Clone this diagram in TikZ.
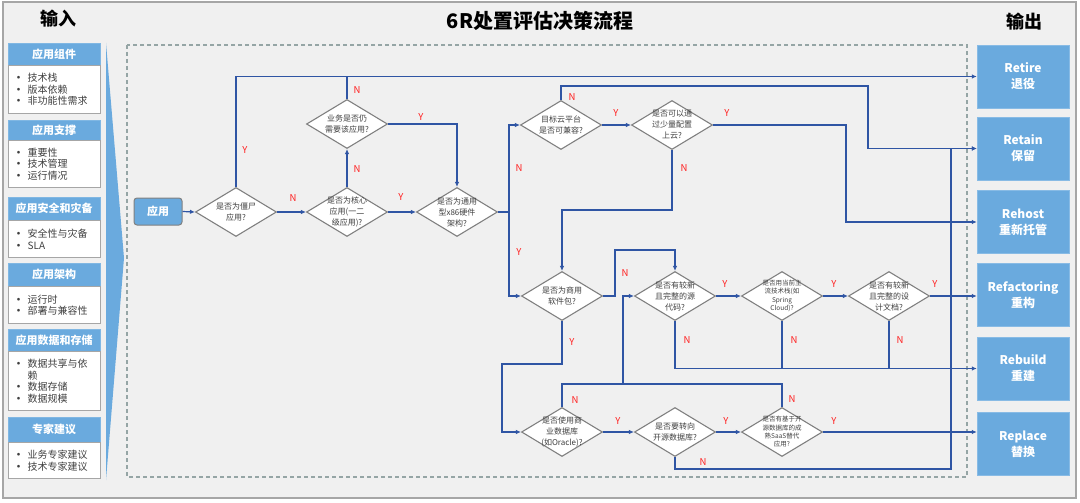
\documentclass[tikz,border=0pt]{standalone}
\usepackage{fontspec}
\setmainfont{Noto Sans CJK SC}
\usetikzlibrary{shapes.geometric,arrows.meta,calc}
\definecolor{bluebox}{HTML}{6AAADE}
\definecolor{lineblue}{HTML}{2F55A4}
\definecolor{bgc}{HTML}{F0F0F0}
\definecolor{framec}{HTML}{A6A6A6}
\definecolor{txt}{HTML}{404040}
\definecolor{dashc}{HTML}{95A5A5}
\definecolor{labred}{HTML}{FF2020}
\definecolor{decb}{HTML}{808080}
\begin{document}
\begin{tikzpicture}[x=1pt,y=-1pt,
  arr/.style={draw=lineblue, line width=1.2pt, -{Latex[length=5pt,width=4.5pt]}},
  ln/.style={draw=lineblue, line width=1.2pt},
  dec/.style={diamond, draw=decb, fill=white, line width=1.1pt, minimum width=81pt, minimum height=49pt, inner sep=0pt},
  dtext/.style={text=txt, font=\fontsize{8}{11}\selectfont, align=center, inner sep=0pt},
  dsmall/.style={text=txt, font=\fontsize{6.5}{8.3}\selectfont, align=center, inner sep=0pt},
  lbl/.style={text=labred, font=\fontsize{9.5}{10}\selectfont, inner sep=0pt},
  outbox/.style={fill=bluebox, draw=bluebox!80!white, minimum width=92pt, minimum height=63pt, text=white, font=\fontsize{12}{16}\selectfont\bfseries, align=center, inner sep=0pt},
  hdr/.style={fill=bluebox, draw=bluebox!85!white, minimum width=92pt, text=white, font=\fontsize{11}{13}\selectfont\bfseries, inner sep=0pt, anchor=north west},
  cardbody/.style={fill=white, draw=framec, line width=1.2pt, text width=82pt, inner xsep=5pt, inner ysep=0pt, align=left, text=txt, font=\fontsize{10}{11.5}\selectfont, anchor=north west},
  ttl/.style={font=\fontsize{18}{20}\selectfont\bfseries, text=black, inner sep=0pt}
]
\newcommand{\bul}{\makebox[14pt][l]{\fontsize{10}{11.5}\selectfont\bfseries•}}
\newcommand{\ind}{\makebox[14pt][l]{}}
% background
\fill[white] (0,0) rectangle (1080,503);
\useasboundingbox (0,0) rectangle (1080,503);
\draw[framec, fill=bgc, line width=1.5pt] (3,2) rectangle (1076,498);
% titles
\node[ttl] (tin) at (58,19) {输入};
\node[ttl, font=\fontsize{20}{22}\selectfont\bfseries] (tmain) at (540,21) {6R处置评估决策流程};
\node[ttl] (tout) at (1024,22) {输出};
% dashed frame
\draw[dashc, line width=1.2pt, dash pattern=on 4pt off 3pt] (127,45) rectangle (967,477);
% wedge
\fill[bluebox] (106,43) -- (124,258) -- (106,480) -- cycle;
% left cards
\node[hdr, minimum height=22pt] (h1) at (8,43) {应用组件};
\node[cardbody, minimum height=48pt] (b1) at (8,65) {\bul 技术栈\\\bul 版本依赖\\\bul 非功能性需求};
\node[hdr, minimum height=20pt] (h2) at (8,120) {应用支撑};
\node[cardbody, minimum height=47pt] (b2) at (8,140) {\bul 重要性\\\bul 技术管理\\\bul 运行情况};
\node[hdr, minimum height=23pt] (h3) at (8,197) {应用安全和灾备};
\node[cardbody, minimum height=37pt] (b3) at (8,220) {\bul 安全性与灾备\\\bul SLA};
\node[hdr, minimum height=23pt] (h4) at (8,263) {应用架构};
\node[cardbody, minimum height=37pt] (b4) at (8,286) {\bul 运行时\\\bul 部署与兼容性};
\node[hdr, minimum height=22pt] (h5) at (8,329) {应用数据和存储};
\node[cardbody, minimum height=59pt] (b5) at (8,351) {\bul 数据共享与依\\\ind 赖\\\bul 数据存储\\\bul 数据规模};
\node[hdr, minimum height=25pt] (h6) at (8,417) {专家建议};
\node[cardbody, minimum height=36pt] (b6) at (8,442) {\bul 业务专家建议\\\bul 技术专家建议};
% outputs
\node[outbox] (retire) at (1023,76.5) {Retire\\退役};
\node[outbox] (retain) at (1023,148.5) {Retain\\保留};
\node[outbox] (rehost) at (1023,222) {Rehost\\重新托管};
\node[outbox] (refactor) at (1023,295) {Refactoring\\重构};
\node[outbox] (rebuild) at (1023,368.5) {Rebuild\\重建};
\node[outbox] (replace) at (1023,444) {Replace\\替换};
% start
\node[fill=bluebox, draw=decb, line width=1pt, rounded corners=3pt, minimum width=48pt, minimum height=27pt, text=white, font=\fontsize{11}{13}\selectfont\bfseries, inner sep=0pt] (app) at (158,211.5) {应用};
% decisions
\node[dec, label={[dtext]center:是否为僵尸\\应用?}] (d1) at (236,212) {};
\node[dec, label={[dtext]center:是否为核心\\应用(一二\\级应用)?}] (d2) at (347,212) {};
\node[dec, label={[dtext]center:业务是否仍\\需要该应用?}] (d3) at (347,124) {};
\node[dec, label={[dtext]center:是否为通用\\型x86硬件\\架构?}] (d4) at (457,212) {};
\node[dec, label={[dtext]center:目标云平台\\是否可兼容?}] (d5) at (561,125) {};
\node[dec, label={[dtext]center:是否可以通\\过少量配置\\上云?}] (d6) at (672,125) {};
\node[dec, label={[dtext]center:是否为商用\\软件包?}] (d7) at (562,296) {};
\node[dec, label={[dtext]center:是否有较新\\且完整的源\\代码?}] (d8) at (675,296) {};
\node[dec, label={[dsmall]center:是否用当前主\\流技术栈(如\\Spring\\Cloud)?}] (d9) at (782,296) {};
\node[dec, label={[dtext]center:是否有较新\\且完整的设\\计文档?}] (d10) at (889,296) {};
\node[dec, label={[dtext]center:是否使用商\\业数据库\\(如Oracle)?}] (d11) at (562,432) {};
\node[dec, label={[dtext]center:是否要转向\\开源数据库?}] (d12) at (675,432) {};
\node[dec, label={[dsmall]center:是否有基于开\\源数据库的成\\熟SaaS替代\\应用?}] (d13) at (782,432) {};
% waypoints
\coordinate (rtA) at (868,86);
\coordinate (rtB) at (951,469);
\coordinate (rh) at (846,222);
\coordinate (sp) at (509,212);
\coordinate (c6) at (672,210);
\coordinate (c7) at (615,250);
\coordinate (c8) at (502,364);
\coordinate (c9) at (623,384);
% connectors
\draw[arr] (app.east) -- (d1.west);
\draw[arr] (d1.east) -- (d2.west);
\draw[arr] (d1.north) |- (retire.west);
\draw[ln] (d3.north) -- (d3.north |- retire.west);
\draw[arr] (d2.north) -- (d3.south);
\draw[arr] (d3.east) -| (d4.north);
\draw[arr] (d2.east) -- (d4.west);
\draw[ln] (d4.east) -- (sp);
\draw[arr] (sp) |- (d5.west);
\draw[arr] (sp) |- (d7.west);
\draw[arr] (d5.east) -- (d6.west);
\draw[arr] (d5.north) |- (rtA) |- (retain.west);
\draw[arr] (d6.east) -| (rh) -- (rehost.west);
\draw[arr] (d6.south) -- (c6) -| (d7.north);
\draw[arr] (d7.east) -| (c7) -| (d8.north);
\draw[arr] (d7.south) |- (c8) |- (d11.west);
\draw[arr] (d8.east) -- (d9.west);
\draw[arr] (d9.east) -- (d10.west);
\draw[arr] (d10.east) -- (d10.east -| refactor.west);
\draw[arr] (d8.south) |- (rebuild.west);
\draw[ln] (d9.south) -- (d9.south |- rebuild.west);
\draw[ln] (d10.south) -- (d10.south |- rebuild.west);
\draw[arr] (d11.north) |- (c9) |- (d8.west);
\draw[ln] (d13.north) |- (c9);
\draw[arr] (d11.east) -- (d12.west);
\draw[arr] (d12.east) -- (d13.west);
\draw[arr] (d12.south) |- (rtB) |- (retain.west);
\draw[arr] (d13.east) -- (d13.east -| replace.west);
% labels
\node[lbl] (l1) at (245,150) {Y};
\node[lbl] (l2) at (293,198) {N};
\node[lbl] (l3) at (357,169) {N};
\node[lbl] (l4) at (357,90) {N};
\node[lbl] (l5) at (421,117) {Y};
\node[lbl] (l6) at (401,197) {Y};
\node[lbl] (l7) at (519,168) {N};
\node[lbl] (l8) at (519,252) {Y};
\node[lbl] (l9) at (616,113) {Y};
\node[lbl] (l10) at (572,97) {N};
\node[lbl] (l11) at (727,113) {Y};
\node[lbl] (l12) at (684,168) {N};
\node[lbl] (l13) at (625,273) {N};
\node[lbl] (l14) at (572,342) {Y};
\node[lbl] (l15) at (725,284) {Y};
\node[lbl] (l16) at (687,340) {N};
\node[lbl] (l17) at (834,284) {Y};
\node[lbl] (l18) at (794,340) {N};
\node[lbl] (l19) at (935,284) {Y};
\node[lbl] (l20) at (900,340) {N};
\node[lbl] (l21) at (575,400) {N};
\node[lbl] (l22) at (618,421) {Y};
\node[lbl] (l23) at (726,421) {Y};
\node[lbl] (l24) at (703,462) {N};
\node[lbl] (l25) at (792,399) {N};
\node[lbl] (l26) at (834,421) {Y};
\end{tikzpicture}
\end{document}
